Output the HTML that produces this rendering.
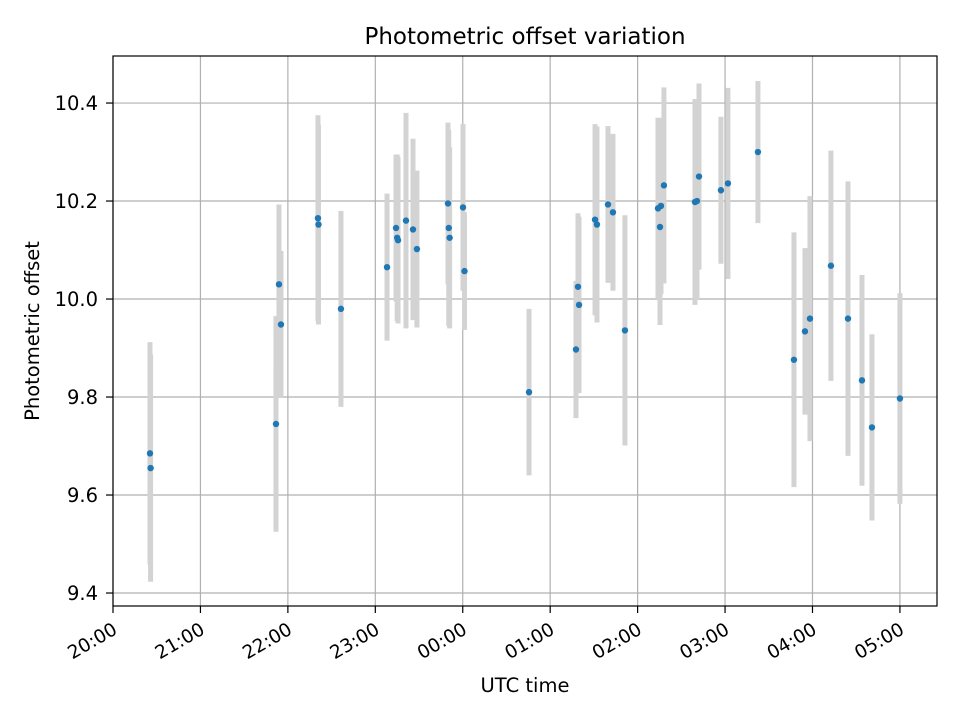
<!DOCTYPE html>
<html><head><meta charset="utf-8"><style>
body{margin:0;background:#fff;}
svg text{font-family:"DejaVu Sans","Liberation Sans",sans-serif;fill:#000;}
</style></head><body>
<svg id="chart" width="960" height="720" xmlns="http://www.w3.org/2000/svg">
<rect width="960" height="720" fill="#fff"/>
<g id="grid"></g><g id="bars"></g><g id="pts"></g><g id="axes"></g>
</svg>
<script>
// hours since 20:00 UTC
const times=[0.423,0.43,1.864,1.898,1.921,2.344,2.35,2.607,3.134,3.237,3.25,3.26,3.351,3.431,3.476,3.831,3.84,3.85,4.003,4.02,4.758,5.295,5.318,5.33,5.513,5.535,5.661,5.718,5.855,6.233,6.256,6.267,6.301,6.656,6.679,6.702,6.953,7.033,7.376,7.788,7.914,7.971,8.211,8.406,8.566,8.68,9.0];
const offsets=[9.685,9.655,9.745,10.03,9.948,10.165,10.152,9.98,10.065,10.145,10.125,10.12,10.16,10.142,10.102,10.195,10.145,10.125,10.187,10.057,9.81,9.897,10.025,9.988,10.162,10.152,10.193,10.177,9.936,10.185,10.147,10.19,10.232,10.198,10.2,10.25,10.222,10.236,10.3,9.876,9.934,9.96,10.068,9.96,9.834,9.738,9.797];
const errors=[0.227,0.232,0.22,0.163,0.15,0.21,0.204,0.2,0.15,0.15,0.17,0.17,0.22,0.185,0.16,0.165,0.2,0.185,0.17,0.12,0.17,0.14,0.15,0.18,0.195,0.2,0.16,0.16,0.235,0.185,0.2,0.18,0.2,0.21,0.2,0.19,0.15,0.195,0.145,0.26,0.17,0.25,0.235,0.28,0.215,0.19,0.215];
const yTicks=[9.4,9.6,9.8,10.0,10.2,10.4];
const xTicks=[0,1,2,3,4,5,6,7,8,9];
const xTickLabels=["20:00","21:00","22:00","23:00","00:00","01:00","02:00","03:00","04:00","05:00"];
const L=113,R=937,T=56,B=606;
const xMin=0,xMax=9.424,yMin=9.3735,yMax=10.496;
const X=v=>L+(v-xMin)/(xMax-xMin)*(R-L);
const Y=v=>B-(v-yMin)/(yMax-yMin)*(B-T);
const NS="http://www.w3.org/2000/svg";
function mk(tag,attrs,parent){const e=document.createElementNS(NS,tag);for(const k in attrs)e.setAttribute(k,attrs[k]);document.getElementById(parent).appendChild(e);return e;}
xTicks.forEach((t,i)=>{
 const g=mk('line',{x1:X(t),x2:X(t),y1:T,y2:B,stroke:'#b0b0b0','stroke-width':1.2},'grid');
 
 
 const tk=mk('line',{x1:X(t),x2:X(t),y1:B,y2:B+7,stroke:'#000','stroke-width':1.2},'axes');
 
 
 const tx=mk('text',{x:0,y:15,'font-size':18.5,'text-anchor':'end',transform:`translate(${X(t)-2} ${B+14}) rotate(-30)`},'axes');
 tx.textContent=xTickLabels[i];
 
 
});
yTicks.forEach(t=>{
 const g=mk('line',{x1:L,x2:R,y1:Y(t),y2:Y(t),stroke:'#b0b0b0','stroke-width':1.2},'grid');
 
 
 const tk=mk('line',{x1:L-7,x2:L,y1:Y(t),y2:Y(t),stroke:'#000','stroke-width':1.2},'axes');
 
 
 const tx=mk('text',{x:L-15,y:Y(t)+7,'font-size':19.5,'text-anchor':'end'},'axes');
 tx.textContent=t.toFixed(1);
 
 
});
times.forEach((t,i)=>{
 const b=mk('line',{x1:X(t),x2:X(t),y1:Y(offsets[i]+errors[i]),y2:Y(offsets[i]-errors[i]),stroke:'#d3d3d3','stroke-width':5},'bars');
 
 
});
times.forEach((t,i)=>{
 const p=mk('circle',{cx:X(t),cy:Y(offsets[i]),r:3.2,fill:'#1f77b4'},'pts');
 
 
});
const fr=mk('rect',{x:L,y:T,width:R-L,height:B-T,fill:'none',stroke:'#000','stroke-width':1.2},'axes');


const ti=mk('text',{x:(L+R)/2,y:44,'font-size':23,'text-anchor':'middle'},'axes');
ti.textContent='Photometric offset variation';


const xl=mk('text',{x:(L+R)/2,y:692,'font-size':19.5,'text-anchor':'middle'},'axes');
xl.textContent='UTC time';


const yl=mk('text',{x:0,y:0,'font-size':19.5,'text-anchor':'middle',transform:`translate(39 ${(T+B)/2}) rotate(-90)`},'axes');
yl.textContent='Photometric offset';


</script>
</body></html>
